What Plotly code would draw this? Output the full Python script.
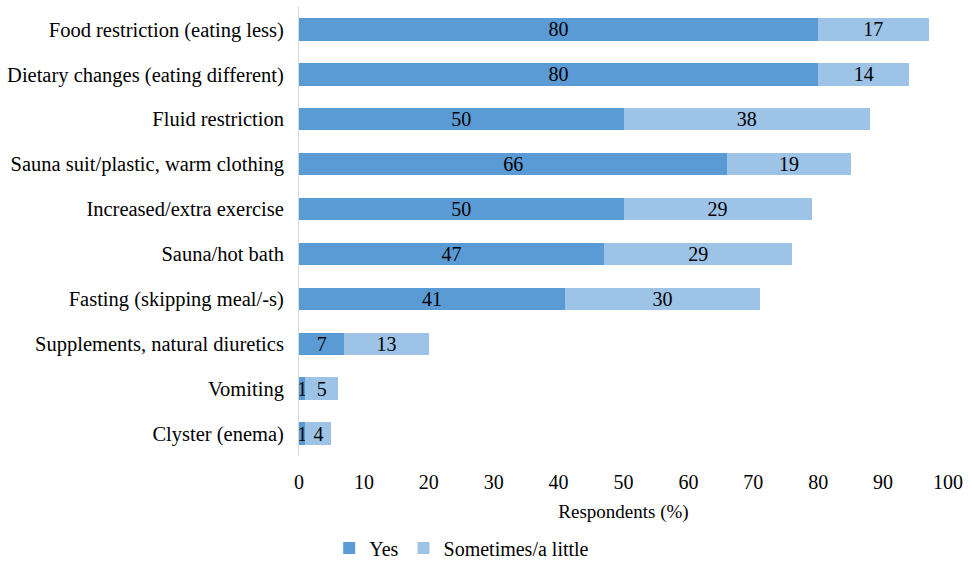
import plotly.graph_objects as go

# Weight-loss methods, top to bottom as listed
methods = [
    "Food restriction (eating less)",
    "Dietary changes (eating different)",
    "Fluid restriction",
    "Sauna suit/plastic, warm clothing",
    "Increased/extra exercise",
    "Sauna/hot bath",
    "Fasting (skipping meal/-s)",
    "Supplements, natural diuretics",
    "Vomiting",
    "Clyster (enema)",
]
yes_vals = [80, 80, 50, 66, 50, 47, 41, 7, 1, 1]
sometimes_vals = [17, 14, 38, 19, 29, 29, 30, 13, 5, 4]
x_ticks = [0, 10, 20, 30, 40, 50, 60, 70, 80, 90, 100]

FONT = "Liberation Serif"
TXT = dict(family=FONT, size=20, color="#000000")

fig = go.Figure()
fig.add_trace(go.Bar(
    name="Yes", y=methods, x=yes_vals, orientation="h",
    marker=dict(color="#5B9BD5", line=dict(width=0)),
    text=[str(v) for v in yes_vals], textposition="inside", textangle=0,
    insidetextanchor="middle", constraintext="none",
    textfont=TXT, cliponaxis=False,
))
fig.add_trace(go.Bar(
    name="Sometimes/a little", y=methods, x=sometimes_vals, orientation="h",
    marker=dict(color="#9DC3E6", line=dict(width=0)),
    text=[str(v) for v in sometimes_vals], textposition="inside", textangle=0,
    insidetextanchor="middle", constraintext="none",
    textfont=TXT, cliponaxis=False,
))

fig.update_layout(
    barmode="stack",
    bargap=0.5,
    width=972, height=562,
    margin=dict(l=299, r=24, t=7, b=106),
    plot_bgcolor="white", paper_bgcolor="white",
    font=TXT,
    showlegend=True,
    legend=dict(
        orientation="h", xref="container", x=0.475, xanchor="center",
        yref="container", y=0.025, yanchor="middle",
        font=dict(family=FONT, size=20, color="#000000"),
        itemsizing="constant", traceorder="normal", itemwidth=30,
    ),
    xaxis=dict(
        range=[0, 100], tickvals=x_ticks, showgrid=False, zeroline=False,
        showline=False, ticks="", tickfont=TXT, ticklabelstandoff=12,
        automargin=False,
        title=dict(text="Respondents (%)", font=dict(family=FONT, size=19, color="#000000"), standoff=12),
    ),
    yaxis=dict(
        categoryorder="array", categoryarray=methods[::-1],
        showgrid=False, zeroline=False, showline=True, linecolor="#D9D9D9",
        linewidth=1, ticks="", tickfont=dict(family=FONT, size=20.5, color="#000000"),
        ticklabelstandoff=10, automargin=False,
    ),
)

fig.write_html("out.html")
